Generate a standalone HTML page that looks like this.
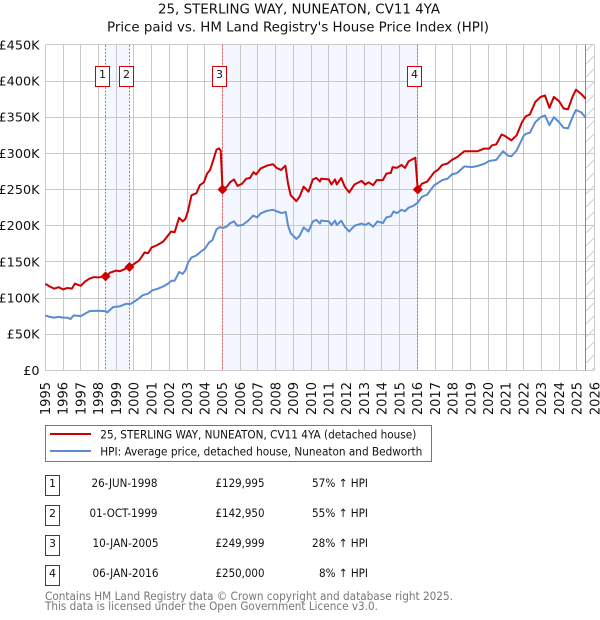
<!DOCTYPE html>
<html lang="en">
<head>
<meta charset="utf-8">
<title>25, STERLING WAY, NUNEATON, CV11 4YA</title>
<style>
html,body{margin:0;padding:0;background:#fff;}
svg{display:block;}
text{font-family:"DejaVu Sans","Liberation Sans",sans-serif;fill:#111;}
</style>
</head>
<body>
<svg id="chart" width="600" height="620" viewBox="0 0 600 620" xmlns="http://www.w3.org/2000/svg">
  <defs>
    <pattern id="hatch" width="13" height="13" patternUnits="userSpaceOnUse" patternTransform="translate(586 -1)">
      <line x1="0" y1="13" x2="13" y2="0" stroke="#cfcfcf" stroke-width="1"/>
    </pattern>
  </defs>
  <text x="299" y="13.5" text-anchor="middle" font-size="13.4" textLength="282" lengthAdjust="spacingAndGlyphs">25, STERLING WAY, NUNEATON, CV11 4YA</text>
  <text x="298" y="31.5" text-anchor="middle" font-size="13.4" textLength="382" lengthAdjust="spacingAndGlyphs">Price paid vs. HM Land Registry's House Price Index (HPI)</text>
  <g id="bands"></g>
  <g id="grid"></g>
  <g id="forecast"></g>
  <g id="sale-lines"></g>
  <g id="series"></g>
  <g id="markers"></g>
  <g id="y-labels"></g>
  <g id="x-labels"></g>

  <g>
    <rect x="45.5" y="425.5" width="386" height="36" fill="#fff" stroke="#777" stroke-width="1"/>
    <line x1="50" y1="434" x2="91" y2="434" stroke="#cc0000" stroke-width="2"/>
    <text x="100.3" y="438.3" font-size="11.4" textLength="316" lengthAdjust="spacingAndGlyphs">25, STERLING WAY, NUNEATON, CV11 4YA (detached house)</text>
    <line x1="50" y1="451" x2="91" y2="451" stroke="#5b8bd0" stroke-width="2"/>
    <text x="100.3" y="455.3" font-size="11.4" textLength="322" lengthAdjust="spacingAndGlyphs">HPI: Average price, detached house, Nuneaton and Bedworth</text>
  </g>

  <g font-size="11.5" lengthAdjust="spacingAndGlyphs">
    <g>
      <rect x="45.5" y="475.5" width="14" height="20" fill="#fff" stroke="#cc0000"/>
      <text x="52.5" y="487" text-anchor="middle" font-size="11">1</text>
      <text x="157.5" y="487" text-anchor="end" textLength="66" lengthAdjust="spacingAndGlyphs">26-JUN-1998</text>
      <text x="264.5" y="487" text-anchor="end" textLength="49" lengthAdjust="spacingAndGlyphs">£129,995</text>
      <text x="368" y="487" text-anchor="end" textLength="56" lengthAdjust="spacingAndGlyphs">57% ↑ HPI</text>
    </g>
    <g>
      <rect x="45.5" y="505.5" width="14" height="20" fill="#fff" stroke="#cc0000"/>
      <text x="52.5" y="517" text-anchor="middle" font-size="11">2</text>
      <text x="157.5" y="517" text-anchor="end" textLength="68" lengthAdjust="spacingAndGlyphs">01-OCT-1999</text>
      <text x="264.5" y="517" text-anchor="end" textLength="49" lengthAdjust="spacingAndGlyphs">£142,950</text>
      <text x="368" y="517" text-anchor="end" textLength="56" lengthAdjust="spacingAndGlyphs">55% ↑ HPI</text>
    </g>
    <g>
      <rect x="45.5" y="535.5" width="14" height="20" fill="#fff" stroke="#cc0000"/>
      <text x="52.5" y="547" text-anchor="middle" font-size="11">3</text>
      <text x="158.5" y="547" text-anchor="end" textLength="66" lengthAdjust="spacingAndGlyphs">10-JAN-2005</text>
      <text x="264.5" y="547" text-anchor="end" textLength="49" lengthAdjust="spacingAndGlyphs">£249,999</text>
      <text x="368" y="547" text-anchor="end" textLength="56" lengthAdjust="spacingAndGlyphs">28% ↑ HPI</text>
    </g>
    <g>
      <rect x="45.5" y="565.5" width="14" height="20" fill="#fff" stroke="#cc0000"/>
      <text x="52.5" y="577" text-anchor="middle" font-size="11">4</text>
      <text x="158.5" y="577" text-anchor="end" textLength="66" lengthAdjust="spacingAndGlyphs">06-JAN-2016</text>
      <text x="264.5" y="577" text-anchor="end" textLength="49" lengthAdjust="spacingAndGlyphs">£250,000</text>
      <text x="368" y="577" text-anchor="end" textLength="49" lengthAdjust="spacingAndGlyphs">8% ↑ HPI</text>
    </g>
  </g>

  <text x="45" y="600" font-size="11.4" style="fill:#777" textLength="408" lengthAdjust="spacingAndGlyphs">Contains HM Land Registry data © Crown copyright and database right 2025.</text>
  <text x="45" y="610" font-size="11.4" style="fill:#777" textLength="333" lengthAdjust="spacingAndGlyphs">This data is licensed under the Open Government Licence v3.0.</text>
</svg>
<script>
const yearTicks = [1995,1996,1997,1998,1999,2000,2001,2002,2003,2004,2005,2006,2007,2008,2009,2010,2011,2012,2013,2014,2015,2016,2017,2018,2019,2020,2021,2022,2023,2024,2025,2026];
const valueTicks = [0,50,100,150,200,250,300,350,400,450];
const valueTickLabels = ['£0','£50K','£100K','£150K','£200K','£250K','£300K','£350K','£400K','£450K'];

const priceDates = [1995,1995.25,1995.5,1995.75,1996,1996.25,1996.5,1996.67,1997,1997.25,1997.5,1997.75,1998,1998.4,1998.65,1999,1999.2,1999.75,2000,2000.3,2000.6,2000.8,2001,2001.3,2001.65,2001.85,2002.1,2002.3,2002.55,2002.75,2002.9,2003.05,2003.25,2003.53,2003.72,2003.95,2004.13,2004.3,2004.47,2004.66,2004.8,2004.9,2005,2005.25,2005.42,2005.65,2005.85,2006.1,2006.35,2006.55,2006.75,2006.9,2007.15,2007.5,2007.85,2008.05,2008.3,2008.55,2008.7,2008.85,2009.17,2009.35,2009.58,2009.85,2010.1,2010.3,2010.5,2010.56,2011,2011.15,2011.35,2011.45,2011.7,2011.9,2012.15,2012.45,2012.85,2013.05,2013.25,2013.5,2013.7,2014.05,2014.25,2014.5,2014.6,2014.85,2015.1,2015.3,2015.5,2015.88,2016.02,2016.25,2016.55,2016.95,2017.15,2017.4,2017.7,2017.95,2018.25,2018.65,2019.05,2019.4,2019.75,2020.05,2020.2,2020.45,2020.75,2020.95,2021.3,2021.6,2021.9,2022.1,2022.35,2022.65,2022.95,2023.2,2023.45,2023.7,2024,2024.25,2024.5,2024.75,2024.95,2025.25,2025.5];
const priceValues = [119.7,116,113,115,112,114,113,120,117,123,127,129,128.5,130,135,138,137,143,147,152,163,162,170,173,178,184,192,191,211,206,209,220,242,245,256,260,272,277,290,305,307,304,250,254,260,264,255,258,265,266,274,271,279,283,285,280,277,283,258,242,234,240,254,247,264,266,261,265,264,257,264,257,266,254,246,257,262,257,260,256,263,263,272,273,281,280,284,280,289,294,250,258,261,274,277,284,286,291,295,303,303,303,306.5,306.5,311,312.5,326,324,318,325,343,351,354,371,378,380,363,378,372,362,361,378,388,382,375.5];

const hpiDates = [1995,1995.26,1995.5,1995.75,1996,1996.25,1996.42,1996.6,1997,1997.25,1997.5,1998,1998.4,1998.49,1998.83,1999.2,1999.55,1999.83,2000.2,2000.5,2000.8,2001.03,2001.35,2001.65,2001.93,2002.12,2002.3,2002.55,2002.75,2002.9,2003.07,2003.25,2003.53,2003.82,2004,2004.25,2004.43,2004.66,2004.85,2005.03,2005.25,2005.4,2005.65,2005.83,2006.13,2006.45,2006.73,2006.95,2007.15,2007.5,2007.85,2008.05,2008.33,2008.57,2008.7,2008.85,2009.17,2009.35,2009.58,2009.85,2010.1,2010.3,2010.5,2010.56,2011,2011.15,2011.35,2011.45,2011.7,2011.9,2012.15,2012.45,2012.85,2013.05,2013.25,2013.5,2013.75,2014.05,2014.25,2014.5,2014.65,2014.85,2015.1,2015.3,2015.5,2015.78,2016.02,2016.25,2016.55,2016.95,2017.15,2017.4,2017.7,2017.95,2018.25,2018.65,2019.05,2019.4,2019.8,2020.05,2020.45,2020.83,2021.1,2021.3,2021.6,2021.98,2022.12,2022.35,2022.65,2022.95,2023.2,2023.45,2023.7,2024,2024.25,2024.5,2024.75,2024.95,2025.25,2025.5];
const hpiValues = [76,74,73,74,73,73,71,76,75,78.5,82,82.5,82,80,87.6,88.5,92,92,98,104,106,110.5,113,116,120,124,124,136,133.5,138,149.5,156,159,165,168,177,180,195,198,197,199,203,206,200,201,207,214,211.5,217,220.6,222,220,217.5,219,200,189.5,181.7,186,197.7,192,206,208,203,207,206,201,207,201,207,198.6,192,200,203,201,203.7,198.6,206,203.7,211.5,213,219.7,217.4,222,220,225,227.5,232,240,243,256,259,263,265,271,273,282,281,282.6,286,289.5,291,303,297,296,304,323.6,327,328.6,343,350,352.5,339,350,343,335.5,334.6,350,360,356.7,349];

const saleDates = [1998.4,1999.75,2005,2016.02];
const saleValues = [129.995,142.95,249.999,250];
const saleLabels = ['1','2','3','4'];
const lastDataDate = 2025.5;

const NS = 'http://www.w3.org/2000/svg';
const xAt = function (year) { return 45.3 + (year - 1995) * 17.72; };
const yAt = function (value) { return 370.4 - value * 0.7234; };
const snap = function (v) { return Math.floor(v) + 0.5; };
const make = function (parent, tag, attrs) {
  const el = document.createElementNS(NS, tag);
  Object.keys(attrs).forEach(function (k) { el.setAttribute(k, attrs[k]); });
  parent.appendChild(el);
  return el;
};
const top_ = yAt(valueTicks[valueTicks.length - 1]);
const bottom_ = yAt(0);
const left_ = xAt(yearTicks[0]);
const right_ = xAt(yearTicks[yearTicks.length - 1]);

const bands = document.getElementById('bands');
[[0, 1], [2, 3]].forEach(function (pair) {
  const r = make(bands, 'rect', {x: xAt(saleDates[pair[0]]), y: top_, width: xAt(saleDates[pair[1]]) - xAt(saleDates[pair[0]]), height: bottom_ - top_, fill: '#f4f7ff'});
  
  
});

const grid = document.getElementById('grid');
yearTicks.forEach(function (year) {
  const l = make(grid, 'line', {x1: snap(xAt(year)), x2: snap(xAt(year)), y1: top_, y2: bottom_, stroke: '#c9c9c9', 'stroke-width': 1, 'shape-rendering': 'crispEdges'});
  
  
});
valueTicks.forEach(function (value) {
  const l = make(grid, 'line', {x1: left_, x2: right_, y1: snap(yAt(value)), y2: snap(yAt(value)), stroke: '#c9c9c9', 'stroke-width': 1, 'shape-rendering': 'crispEdges'});
  
  
});

const forecast = document.getElementById('forecast');
const hatch = make(forecast, 'rect', {x: xAt(lastDataDate), y: top_, width: right_ - xAt(lastDataDate), height: bottom_ - top_, fill: 'url(#hatch)'});


const endLine = make(forecast, 'line', {x1: snap(xAt(lastDataDate)), x2: snap(xAt(lastDataDate)), y1: top_, y2: bottom_, stroke: '#8a8a8a', 'stroke-width': 1});



const saleLinesG = document.getElementById('sale-lines');
saleDates.forEach(function (d) {
  const l = make(saleLinesG, 'line', {x1: snap(xAt(d)), x2: snap(xAt(d)), y1: top_, y2: bottom_, stroke: '#e8606a', 'stroke-width': 1, 'stroke-dasharray': '2 1.5'});
  
  
});

const series = document.getElementById('series');
const pathFrom = function (dates, values) {
  return dates.map(function (d, i) { return (i ? 'L' : 'M') + xAt(d).toFixed(2) + ' ' + yAt(values[i]).toFixed(2); }).join(' ');
};
const hpiPath = make(series, 'path', {d: pathFrom(hpiDates, hpiValues), fill: 'none', stroke: '#5b8bd0', 'stroke-width': 2, 'stroke-linejoin': 'round'});


const pricePath = make(series, 'path', {d: pathFrom(priceDates, priceValues), fill: 'none', stroke: '#cc0000', 'stroke-width': 2, 'stroke-linejoin': 'round'});



const markers = document.getElementById('markers');
saleDates.forEach(function (d, i) {
  const cx = xAt(d);
  const cy = yAt(saleValues[i]);
  const diamond = make(markers, 'polygon', {points: (cx - 5) + ',' + cy + ' ' + cx + ',' + (cy - 5) + ' ' + (cx + 5) + ',' + cy + ' ' + cx + ',' + (cy + 5), fill: '#cc0000'});
  
  
  const box = make(markers, 'rect', {x: Math.floor(cx) - 9.5, y: 66.5, width: 14, height: 20, fill: '#fff', stroke: '#cc0000', 'stroke-width': 1});
  
  
  const label = make(markers, 'text', {x: Math.floor(cx) - 2.5, y: 78, 'text-anchor': 'middle', 'font-size': 11});
  label.textContent = saleLabels[i];
  
  
});

const yLabels = document.getElementById('y-labels');
valueTicks.forEach(function (value, i) {
  const t = make(yLabels, 'text', {x: 39.5, y: yAt(value) + 4.5, 'text-anchor': 'end', 'font-size': 12.8});
  t.textContent = valueTickLabels[i];
  
  
});

const xLabels = document.getElementById('x-labels');
yearTicks.forEach(function (year) {
  const x = xAt(year) + 4.7;
  const t = make(xLabels, 'text', {x: x, y: 382, 'text-anchor': 'end', 'font-size': 13, transform: 'rotate(-90 ' + x + ' 382)'});
  t.textContent = String(year);
  
  
});
</script>
</body>
</html>
